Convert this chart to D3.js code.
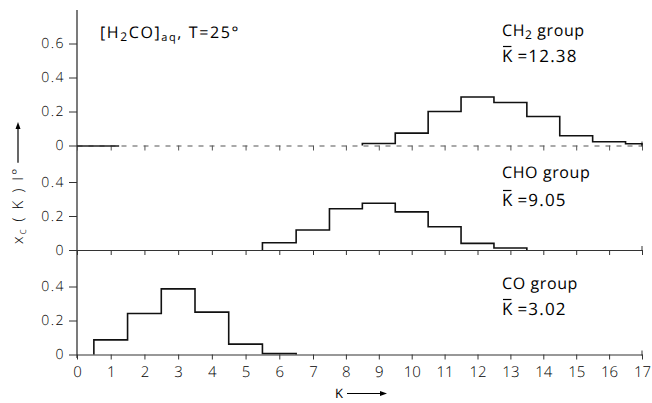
<!DOCTYPE html>
<html>
<head>
<meta charset="utf-8">
<script src="https://cdn.jsdelivr.net/npm/d3@7"></script>
<style>
  body { margin: 0; background: #fff; }
  svg { display: block; }
  text { font-family: "Open Sans", "DejaVu Sans", sans-serif; font-weight: 400; fill: #000;
         text-rendering: geometricPrecision; -webkit-font-smoothing: antialiased; }
</style>
</head>
<body>
<svg id="chart" width="652" height="403"></svg>
<script>
// Mole fraction of carbon atoms in each group, by number of hydration partners K
const ch2K    = [9, 10, 11, 12, 13, 14, 15, 16, 17];
const ch2Frac = [0.012, 0.073, 0.200, 0.285, 0.253, 0.171, 0.057, 0.022, 0.010];
const choK    = [6, 7, 8, 9, 10, 11, 12, 13];
const choFrac = [0.043, 0.118, 0.243, 0.275, 0.224, 0.137, 0.039, 0.012];
const coK     = [1, 2, 3, 4, 5, 6];
const coFrac  = [0.086, 0.241, 0.386, 0.249, 0.061, 0.006];

const groupLabels = ["CH", "CHO", "CO"];
const meanK = ["12.38", "9.05", "3.02"];
const kTicks = d3.range(0, 18);
const yTicksTop = [0, 0.2, 0.4, 0.6];
const yTicksLow = [0, 0.2, 0.4];

const FONT = '"Open Sans","DejaVu Sans",sans-serif';
const svg = d3.select("#chart");

// K axis (hand-drawn original spacing is slightly wider on the left)
const x = d3.scaleLinear().domain([0, 7, 17]).range([77, 313, 642]);

const panels = [
  { base: 145.5, k: ch2K, v: ch2Frac, ticks: yTicksTop, label: 0, ty: 36, my: 62 },
  { base: 250,   k: choK, v: choFrac, ticks: yTicksLow, label: 1, ty: 178, my: 206 },
  { base: 354.5, k: coK,  v: coFrac,  ticks: yTicksLow, label: 2, ty: 289, my: 315 }
];

// main vertical axis line
svg.append("line")
  .attr("x1", x(0)).attr("x2", x(0))
  .attr("y1", 10).attr("y2", 358)
  .attr("stroke", "#222").attr("stroke-width", 1.2);

panels.forEach((p, i) => {
  const y = d3.scaleLinear().domain([0, 1]).range([p.base, p.base - 170]);

  // baseline with tick marks
  const xAxis = d3.axisBottom(x).tickValues(kTicks).tickSize(5).tickSizeOuter(0)
    .tickFormat(i === 2 ? d3.format("d") : "");
  const gx = svg.append("g").attr("transform", `translate(0,${p.base})`).call(xAxis);
  gx.select(".domain").attr("stroke", "#333").attr("stroke-width", 1.1);
  gx.selectAll(".tick line").attr("stroke", "#333").attr("stroke-width", 1);
  if (i === 0) {
    gx.select(".domain").attr("stroke-dasharray", "5,6").attr("stroke", "#555");
    gx.selectAll(".tick line").attr("stroke", "#555");
    svg.append("line")
      .attr("x1", x(0)).attr("x2", x(1.25))
      .attr("y1", p.base + 0.5).attr("y2", p.base + 0.5)
      .attr("stroke", "#222").attr("stroke-width", 1.4);
  }
  if (i === 2) {
    gx.selectAll(".tick text")
      .attr("y", 12).attr("font-size", 15).attr("fill", "#000")
      .style("font-family", FONT).style("font-weight", 300);
  } else {
    gx.selectAll(".tick text").remove();
  }
  // end cap at K = 17
  svg.append("line")
    .attr("x1", x(17)).attr("x2", x(17))
    .attr("y1", p.base - 4).attr("y2", p.base + 1)
    .attr("stroke", "#333").attr("stroke-width", 1);

  // value ticks
  const yAxis = d3.axisLeft(y).tickValues(p.ticks).tickSize(8).tickPadding(4)
    .tickFormat(d => d === 0 ? "0" : d3.format(".1f")(d));
  const gy = svg.append("g").attr("transform", `translate(${x(0)},0)`).call(yAxis);
  gy.select(".domain").remove();
  gy.selectAll(".tick line").attr("stroke", "#333").attr("stroke-width", 1);
  gy.selectAll(".tick text")
    .attr("font-size", 14).attr("fill", "#000")
    .style("letter-spacing", "1.5px")
    .style("font-family", FONT).style("font-weight", 300);

  // step outline of the distribution
  const pts = [];
  pts.push([Math.max(0, p.k[0] - 0.5), 0]);
  p.k.forEach((k, j) => {
    pts.push([Math.max(0, k - 0.5), p.v[j]]);
    pts.push([Math.min(17, k + 0.5), p.v[j]]);
  });
  pts.push([Math.min(17, p.k[p.k.length - 1] + 0.5), 0]);
  const line = d3.line().x(d => x(d[0])).y(d => y(d[1]));
  svg.append("path").attr("d", line(pts))
    .attr("fill", "none").attr("stroke", "#111").attr("stroke-width", 1.6);

  // group name
  const t = svg.append("text").attr("x", 502).attr("y", p.ty)
    .attr("font-size", 16).style("letter-spacing", "0.6px");
  if (p.label === 0) {
    t.append("tspan").text("CH");
    t.append("tspan").attr("font-size", 12).attr("dy", 3).text("2");
    t.append("tspan").attr("dy", -3).text(" group");
  } else {
    t.text(groupLabels[p.label] + " group");
  }

  // mean K with an overbar
  const kt = svg.append("text").attr("x", 502).attr("y", p.my).attr("font-size", 17).text("K");
  const kw = kt.node().getComputedTextLength();
  svg.append("line")
    .attr("x1", 503).attr("x2", 502 + kw - 1)
    .attr("y1", p.my - 15.5).attr("y2", p.my - 15.5)
    .attr("stroke", "#000").attr("stroke-width", 1.2);
  svg.append("text").attr("x", 502 + kw + 5).attr("y", p.my)
    .attr("font-size", 17).style("letter-spacing", "1.2px")
    .text("=" + meanK[p.label]);
});

// condition label
const cond = svg.append("text").attr("x", 100).attr("y", 38).attr("font-size", 16)
  .style("letter-spacing", "1.6px");
cond.append("tspan").text("[H");
cond.append("tspan").attr("font-size", 12).attr("dy", 3).text("2");
cond.append("tspan").attr("dy", -3).text("CO]");
cond.append("tspan").attr("font-size", 11).attr("dy", 3).text("aq");
cond.append("tspan").attr("dy", -3).text(",  T=25°");

// arrows
function arrowHead(g, xTip, yTip) {
  const pts = [[xTip, yTip], [xTip - 7, yTip - 2.5], [xTip - 7, yTip + 2.5]];
  g.append("path").attr("d", d3.line()(pts) + "Z").attr("fill", "#000");
}

// K axis title
svg.append("text").attr("x", 335).attr("y", 398).attr("font-size", 13).text("K");
svg.append("line").attr("x1", 347).attr("x2", 382).attr("y1", 393.5).attr("y2", 393.5)
  .attr("stroke", "#000").attr("stroke-width", 1.2);
arrowHead(svg, 387, 393.5);

// value axis title
const yl = svg.append("g").attr("transform", "translate(23,244) rotate(-90)");
const ylt = yl.append("text").attr("x", 0).attr("y", 0).attr("font-size", 15)
  .style("letter-spacing", "2px").style("font-weight", 300);
ylt.append("tspan").text("x");
ylt.append("tspan").attr("font-size", 11).attr("dy", 3).text("c");
ylt.append("tspan").attr("dy", -3).text(" ( K )  I°");
const yw = ylt.node().getComputedTextLength();
yl.append("line").attr("x1", yw + 4).attr("x2", 116).attr("y1", -5).attr("y2", -5)
  .attr("stroke", "#000").attr("stroke-width", 1.2);
arrowHead(yl, 122, -5);
</script>
</body>
</html>
